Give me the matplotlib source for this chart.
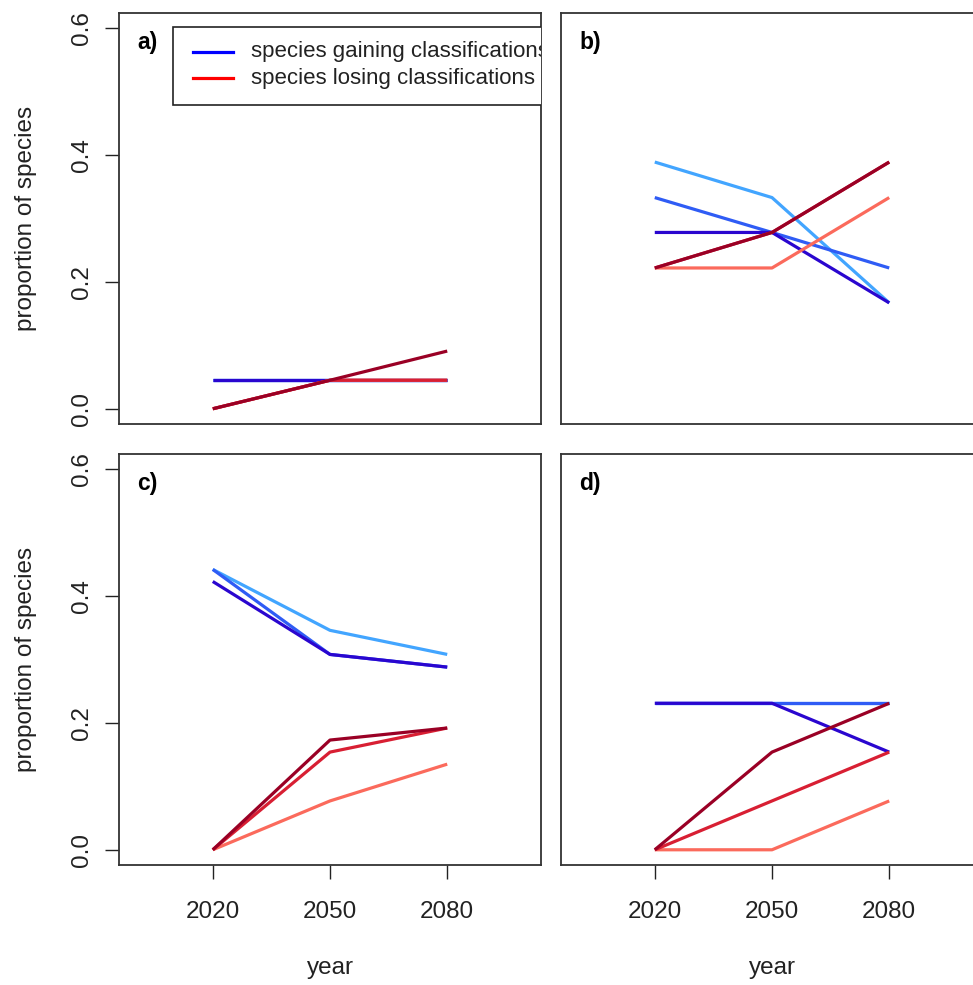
import matplotlib
matplotlib.use("Agg")
import matplotlib.pyplot as plt
from matplotlib.patches import Rectangle

plt.rcParams['font.family'] = ['Liberation Sans', 'DejaVu Sans']

years = [2020, 2050, 2080]
panel_labels = ["a)", "b)", "c)", "d)"]
legend_labels = ["species gaining classifications", "species losing classifications"]
legend_colors = ["blue", "red"]

# gaining: light, medium, dark blue
gain_a = [[0.045, 0.045, 0.045], [0.045, 0.045, 0.045], [0.045, 0.045, 0.045]]
gain_b = [[0.389, 0.333, 0.167], [0.333, 0.278, 0.222], [0.278, 0.278, 0.167]]
gain_c = [[0.442, 0.346, 0.308], [0.442, 0.308, 0.288], [0.423, 0.308, 0.288]]
gain_d = [[0.231, 0.231, 0.231], [0.231, 0.231, 0.231], [0.231, 0.231, 0.154]]

# losing: salmon, red, dark red
lose_a = [[0.0, 0.045, 0.045], [0.0, 0.045, 0.045], [0.0, 0.045, 0.091]]
lose_b = [[0.222, 0.222, 0.333], [0.222, 0.278, 0.389], [0.222, 0.278, 0.389]]
lose_c = [[0.0, 0.077, 0.135], [0.0, 0.154, 0.192], [0.0, 0.173, 0.192]]
lose_d = [[0.0, 0.0, 0.077], [0.0, 0.077, 0.154], [0.0, 0.154, 0.231]]

gain_colors = ["#42a5ff", "#2f5cf5", "#2a06cf"]
lose_colors = ["#fb6a5c", "#d81f33", "#9a0025"]

yticks = [0.0, 0.2, 0.4, 0.6]
ytick_labels = ["0.0", "0.2", "0.4", "0.6"]

W, H = 973, 985


def px_axes(left, top, right, bottom):
    return [left / W, (H - bottom) / H, (right - left) / W, (bottom - top) / H]


def main():
    fig = plt.figure(figsize=(W / 100, H / 100), dpi=100)
    boxes = [px_axes(119, 13, 541, 424), px_axes(561, 13, 983, 424),
             px_axes(119, 454, 541, 865), px_axes(561, 454, 983, 865)]
    gains = [gain_a, gain_b, gain_c, gain_d]
    loses = [lose_a, lose_b, lose_c, lose_d]

    for i in range(4):
        ax = fig.add_axes(boxes[i])
        for vals, col in zip(gains[i], gain_colors):
            ax.plot(years, vals, color=col, lw=2.3, solid_capstyle='butt')
        for vals, col in zip(loses[i], lose_colors):
            ax.plot(years, vals, color=col, lw=2.3, solid_capstyle='butt')
        ax.set_xlim(1996, 2104)
        ax.set_ylim(-0.024, 0.624)
        for s in ax.spines.values():
            s.set_linewidth(1.3)
            s.set_color('#333333')
        ax.tick_params(length=10, width=1.0, color='#222222')

        # y axis only on left column
        if i % 2 == 0:
            ax.set_yticks(yticks)
            ax.set_yticklabels(ytick_labels, rotation=90, va='center',
                               family=['Liberation Sans Narrow', 'Liberation Sans'],
                               fontsize=17.5, color='#222222')
            ax.tick_params(axis='y', pad=8.6)
            ax.set_ylabel("proportion of species", fontsize=17.5, color='#222222')
            ax.yaxis.set_label_coords(-0.194, 0.5)
        else:
            ax.set_yticks([])
        # x axis only on bottom row
        if i >= 2:
            ax.set_xticks(years)
            ax.set_xticklabels([str(y) for y in years], fontsize=17.5, color='#222222')
            ax.tick_params(axis='x', pad=15.8)
            ax.set_xlabel("year", fontsize=17.5, color='#222222')
            ax.xaxis.set_label_coords(0.5, -0.224)
        else:
            ax.set_xticks([])

        ax.text(0.043, 0.929, panel_labels[i], transform=ax.transAxes,
                fontsize=16.5, fontweight='bold', ha='left', va='center')

        if i == 0:
            # legend box, clipped by the plot region like the original
            rect = Rectangle((0.128, 0.776), 1.0, 0.19, transform=ax.transAxes,
                             facecolor='white', edgecolor='#222222', lw=1.2,
                             clip_on=True, zorder=5)
            ax.add_patch(rect)
            for k, (lab, col) in enumerate(zip(legend_labels, legend_colors)):
                yy = [0.906, 0.841][k]
                ax.plot([0.175, 0.270], [yy, yy], transform=ax.transAxes,
                        color=col, lw=2.3, zorder=6)
                ax.text(0.312, yy, lab, transform=ax.transAxes, fontsize=16,
                        va='center', ha='left', color='#222222', clip_on=True, zorder=6)

    fig.savefig("out.png", dpi=100)


if __name__ == '__main__':
    main()
